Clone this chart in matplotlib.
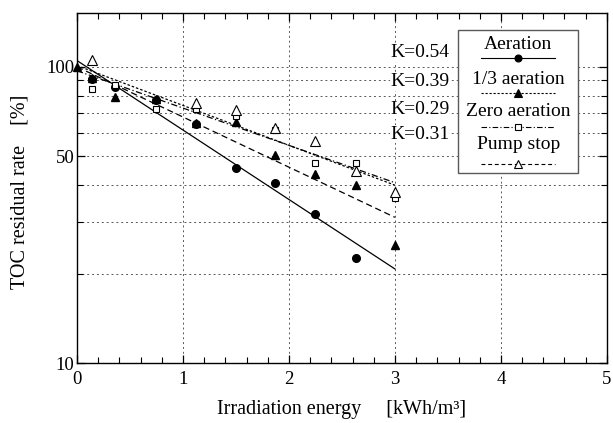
import numpy as np
import matplotlib
matplotlib.use("Agg")
import matplotlib.pyplot as plt
from matplotlib.lines import Line2D
from matplotlib.patches import Rectangle
from matplotlib.ticker import FixedLocator, NullFormatter, FixedFormatter

plt.rcParams["font.family"] = ["Liberation Serif", "DejaVu Serif"]

# measured points (energy kWh/m3, TOC residual %)
aer_x = [0.14, 0.36, 0.75, 1.12, 1.5, 1.87, 2.25, 2.63]
aer_y = [91, 85.5, 77.5, 64, 45.6, 40.6, 31.8, 22.7]
third_x = [0.0, 0.14, 0.36, 0.75, 1.12, 1.5, 1.87, 2.25, 2.63, 3.0]
third_y = [100, 92, 79.4, 78, 64.5, 65.3, 50.5, 43.4, 39.8, 25.0]
zero_x = [0.14, 0.36, 0.75, 1.12, 1.5, 1.87, 2.25, 2.63, 3.0]
zero_y = [84, 87, 72, 72, 68, 61.2, 47.5, 47.3, 36.1]
pump_x = [0.14, 1.12, 1.5, 1.87, 2.25, 2.63, 3.0]
pump_y = [105.6, 75.3, 71.3, 62, 56.4, 44.6, 37.7]

# fitted first-order lines C = C0 * exp(-K * E)
k_values = [0.54, 0.39, 0.29, 0.31]
c0_values = [105, 100, 97, 101]
names = ["Aeration", "1/3 aeration", "Zero aeration", "Pump stop"]

fig = plt.figure(figsize=(6.13, 4.23), dpi=100)
ax = fig.add_axes([0.1256, 0.1418, 0.8644, 0.8275])
ax.set_yscale("log")
ax.set_xlim(0, 5)
ax.set_ylim(10, 152)

grid_kw = dict(color="0.35", lw=0.7, ls=(0, (2, 3)), zorder=0)
for gx in [1, 2, 3, 4]:
    ax.axvline(gx, **grid_kw)
for gy in [20, 30, 40, 50, 60, 70, 80, 90, 100]:
    ax.axhline(gy, **grid_kw)

line_styles = ["-", (0, (5, 3)), (0, (5, 2, 1, 2)), (0, (2, 1.6))]
e = np.linspace(0, 3, 50)
for k, c0, ls in zip(k_values, c0_values, line_styles):
    ax.plot(e, c0 * np.exp(-k * e), color="black", lw=0.9, ls=ls, zorder=2)

ax.plot(aer_x, aer_y, "o", color="black", ms=5.5, ls="none", zorder=3)
ax.plot(third_x, third_y, "^", color="black", ms=6, ls="none", zorder=3, clip_on=False)
ax.plot(zero_x, zero_y, "s", mfc="white", mec="black", mew=0.8, ms=5, ls="none", zorder=3)
ax.plot(pump_x, pump_y, "^", mfc="white", mec="black", mew=0.8, ms=6.5, ls="none", zorder=3)

# K labels
k_pos_y = [0.886, 0.803, 0.723, 0.654]
for k, yy in zip(k_values, k_pos_y):
    ax.text(0.703, yy, f"K={k:.2f}", transform=ax.transAxes, ha="right",
            va="center", fontsize=14, zorder=4,
            bbox=dict(fc="white", ec="none", pad=0.3))

# custom legend: label above a line with centered marker
ax.add_patch(Rectangle((0.719, 0.543), 0.226, 0.408, transform=ax.transAxes,
                       fc="white", ec="0.35", lw=1.0, zorder=4))
text_y = [0.909, 0.809, 0.718, 0.623]
line_y = [0.871, 0.771, 0.674, 0.569]
legend_ls = ["-", (0, (2, 1.6)), (0, (5, 2, 1, 2)), (0, (3.5, 2.5))]
legend_mk = [dict(marker="o", mfc="black", ms=5), dict(marker="^", mfc="black", ms=5.5),
             dict(marker="s", mfc="white", ms=4.5), dict(marker="^", mfc="white", ms=6)]
for name, ty, ly, ls, mk in zip(names, text_y, line_y, legend_ls, legend_mk):
    ax.text(0.833, ty, name, transform=ax.transAxes, ha="center", va="center",
            fontsize=14, zorder=5)
    ax.add_line(Line2D([0.762, 0.902], [ly, ly], transform=ax.transAxes,
                       color="black", lw=0.8, ls=ls, zorder=5))
    ax.add_line(Line2D([0.833], [ly], transform=ax.transAxes, color="black",
                       mec="black", mew=0.8, ls="none", zorder=6, **mk))

ax.xaxis.set_major_locator(FixedLocator([0, 1, 2, 3, 4, 5]))
ax.xaxis.set_minor_locator(FixedLocator(np.arange(0.2, 5, 0.2)))
ax.yaxis.set_major_locator(FixedLocator([10, 50, 100]))
ax.yaxis.set_major_formatter(FixedFormatter(["10", "50", "100"]))
ax.yaxis.set_minor_locator(FixedLocator([20, 30, 40, 60, 70, 80, 90]))
ax.yaxis.set_minor_formatter(NullFormatter())
ax.tick_params(which="both", direction="in", top=True, right=True, labelsize=13.5)
ax.tick_params(which="major", length=6, width=0.9)
ax.tick_params(which="minor", length=4, width=0.8)
ax.tick_params(axis="x", pad=6)
ax.tick_params(axis="y", pad=2)
for sp in ax.spines.values():
    sp.set_linewidth(1.0)

ax.set_xlabel("Irradiation energy     [kWh/m³]", fontsize=14.5)
ax.xaxis.set_label_coords(0.5, -0.105)
ax.set_ylabel("TOC residual rate    [%]", fontsize=14.5)
ax.yaxis.set_label_coords(-0.089, 0.49)

fig.savefig("out.png", dpi=100)
